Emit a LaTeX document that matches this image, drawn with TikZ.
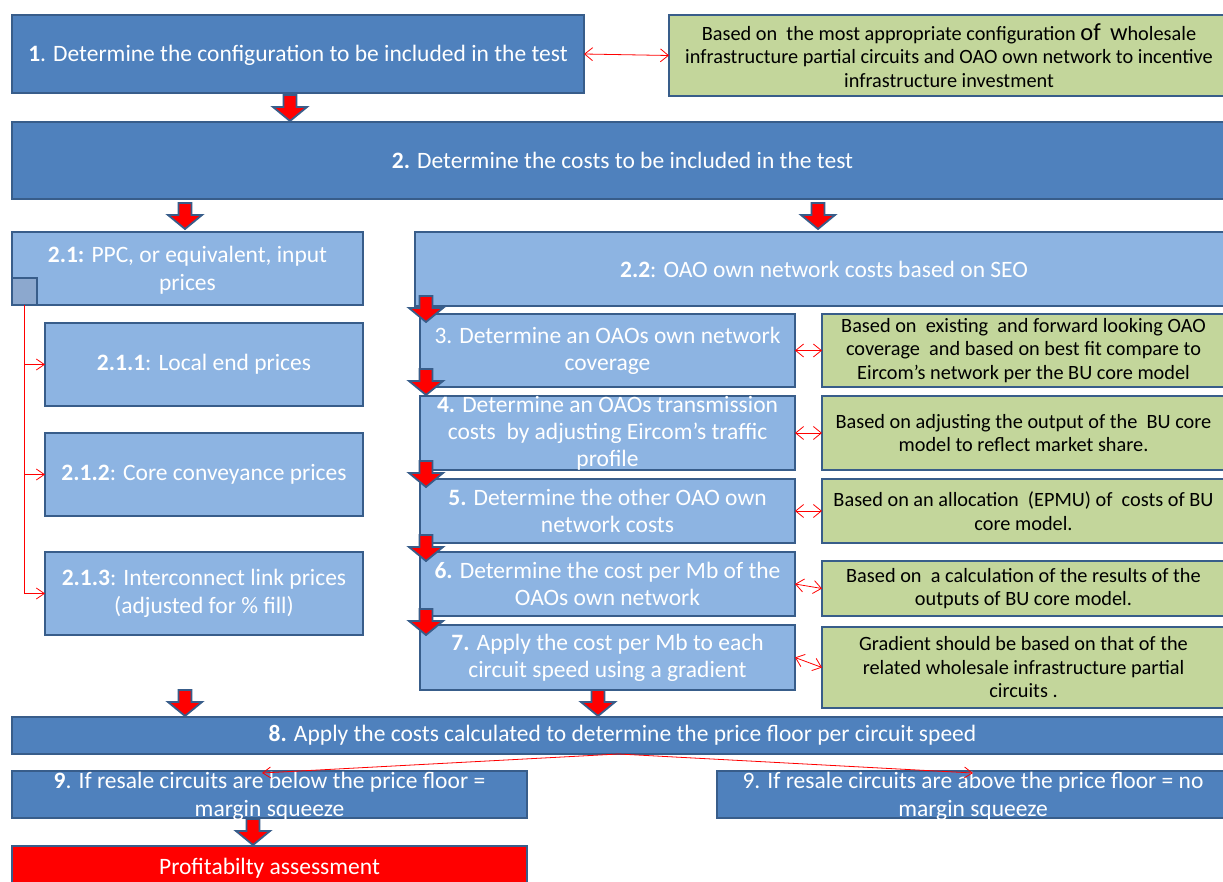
\documentclass[tikz,border=0pt]{standalone}
\usepackage{fontspec}
\setmainfont{Carlito}
\usetikzlibrary{arrows.meta,calc}
\definecolor{dkblue}{RGB}{79,129,189}
\definecolor{ltblue}{RGB}{141,180,226}
\definecolor{edgeblue}{RGB}{56,93,138}
\definecolor{olivegreen}{RGB}{195,214,155}
\definecolor{sqblue}{RGB}{140,168,206}
\definecolor{pureRed}{RGB}{255,0,0}
\newcommand\mkbx[6]{\node[#1, minimum width={#5-#3}, minimum height={#6-#4}] (#2) at ({(#3+#5)/2},{(#4+#6)/2}) {};}
\tikzset{
  boxbase/.style={draw=edgeblue, line width=2.2pt, inner sep=0pt, outer sep=0pt, rectangle},
  dk/.style={boxbase, fill=dkblue},
  lt/.style={boxbase, fill=ltblue},
  gr/.style={boxbase, fill=olivegreen},
  rd/.style={boxbase, fill=pureRed},
  sqr/.style={boxbase, line width=1.6pt, fill=sqblue},
  wt/.style={text=white, align=center, inner sep=0pt, font=\fontsize{23.5}{27.5}\selectfont},
  wtb/.style={text=white, align=center, inner sep=0pt, font=\fontsize{23.5}{27}\selectfont},
  bk/.style={text=black, align=center, inner sep=0pt, font=\fontsize{20.3}{23.5}\selectfont},
  dbl/.style={draw=red, line width=0.8pt, {Straight Barb[length=8pt,width=13pt]}-{Straight Barb[length=8pt,width=13pt]}},
  sgl/.style={draw=red, line width=0.8pt, -{Straight Barb[length=8pt,width=11pt]}},
  barrow/.pic={\draw[draw=edgeblue, line width=1.8pt, fill=pureRed, line join=miter]
     (-6.5,0) -- (-6.5,12) -- (-17,12) -- (0,26) -- (17,12) -- (6.5,12) -- (6.5,0) -- cycle;}
}
\begin{document}
\begin{tikzpicture}[x=1pt,y=-1pt]
\useasboundingbox (0,0) rectangle (1223,882);
\fill[white] (0,0) rectangle (1223,882);

% boxes
\mkbx{dk}{b1}{12}{15}{584}{93}
\mkbx{gr}{g1}{669}{15}{1225}{96}
\mkbx{dk}{b2}{12}{122}{1225}{199}
\mkbx{lt}{b21}{12}{232}{363}{305}
\mkbx{sqr}{sq}{12}{278}{37}{305}
\mkbx{lt}{b211}{45}{323}{363}{406}
\mkbx{lt}{b212}{45}{433}{363}{516}
\mkbx{lt}{b213}{45}{552}{363}{635}
\mkbx{lt}{b22}{415}{232}{1225}{306}
\mkbx{lt}{b3}{420}{314}{795}{387}
\mkbx{lt}{b4}{420}{396}{795}{470}
\mkbx{lt}{b5}{420}{479}{795}{543}
\mkbx{lt}{b6}{420}{552}{795}{616}
\mkbx{lt}{b7}{420}{625}{795}{690}
\mkbx{gr}{g3}{822}{314}{1225}{387}
\mkbx{gr}{g4}{822}{396}{1225}{470}
\mkbx{gr}{g5}{822}{479}{1225}{543}
\mkbx{gr}{g6}{822}{561}{1225}{616}
\mkbx{gr}{g7}{822}{627}{1225}{708}
\mkbx{dk}{b8}{12}{717}{1225}{754}
\mkbx{dk}{b9a}{12}{771}{527}{818}
\mkbx{dk}{b9b}{717}{771}{1225}{818}
\mkbx{rd}{rb}{12}{846}{527}{892}

% texts
\node[wt] (t1) at ($(b1)+(0,1)$) {\textbf{1}. Determine the configuration to be included in the test};
\node[bk] (tg1) at ($(g1)+(2,0)$) {Based on~ the most appropriate configuration {\fontsize{24.5}{24}\selectfont of}~ {\fontsize{24.5}{24}\selectfont w}holesale\\infrastructure partial circuits and OAO own network to incentive\\infrastructure investment};
\node[wt] (t2) at ($(b2)+(4,0)$) {\textbf{2.} Determine the costs to be included in the test};
\node[wt] (t21) at ($(b21)+(0,1.5)$) {\textbf{2.1:} PPC, or equivalent, input\\prices};
\node[wt] (t211) at (b211) {\textbf{2.1.1}: Local end prices};
\node[wt] (t212) at (b212) {\textbf{2.1.2}: Core conveyance prices};
\node[wt] (t213) at (b213) {\textbf{2.1.3}: Interconnect link prices\\(adjusted for \% fill)};
\node[wt] (t22) at ($(b22)+(4,0)$) {\textbf{2.2}: OAO own network costs based on SEO};
\node[wtb] (t3) at (b3) {3. Determine an OAOs own network\\coverage};
\node[wtb] (t4) at (b4) {\textbf{4.} Determine an OAOs transmission\\costs~ by adjusting Eircom’s traffic\\profile};
\node[wtb] (t5) at (b5) {\textbf{5.} Determine the other OAO own\\network costs};
\node[wtb] (t6) at (b6) {\textbf{6.} Determine the cost per Mb of the\\OAOs own network};
\node[wtb] (t7) at (b7) {\textbf{7.} Apply the cost per Mb to each\\circuit speed using a gradient};
\node[bk] (tg3) at (g3) {Based on~ existing~ and forward looking OAO\\coverage~ and based on best fit compare to\\Eircom’s network per the BU core model};
\node[bk] (tg4) at (g4) {Based on adjusting the output of the~ BU core\\model to reflect market share.};
\node[bk] (tg5) at (g5) {Based on an allocation~ (EPMU) of~ costs of BU\\core model.};
\node[bk] (tg6) at (g6) {Based on~ a calculation of the results of the\\outputs of BU core model.};
\node[bk] (tg7) at (g7) {Gradient should be based on that of the\\related wholesale infrastructure partial\\circuits .};
\node[wt] (t8) at ($(b8)+(4,0)$) {\textbf{8.} Apply the costs calculated to determine the price floor per circuit speed};
\node[wt] (t9a) at ($(b9a)+(0,2)$) {\textbf{9}. If resale circuits are below the price floor =\\margin squeeze};
\node[wt] (t9b) at ($(b9b)+(2,2)$) {9. If resale circuits are above the price floor = no\\margin squeeze};
\node[wt] (trb) at ($(rb)+(0,-1)$) {Profitabilty assessment};

% block arrows
\pic at (290,95) {barrow};
\pic at (185,203) {barrow};
\pic at (818,203) {barrow};
\pic at (426,296) {barrow};
\pic at (426,369) {barrow};
\pic at (426,461) {barrow};
\pic at (426,535) {barrow};
\pic at (426,609) {barrow};
\pic at (185,690) {barrow};
\pic at (598,690) {barrow};
\pic at (253,819) {barrow};

% thin red connectors
\draw[dbl] (b1.east) -- (g1.west);
\draw[dbl] (b3.east) -- (g3.west);
\draw[dbl] (b4.east) -- (g4.west);
\draw[dbl] (b5.east) -- (g5.west);
\draw[dbl] (b6.east) -- (g6.west);
\draw[dbl] (b7.east) -- (g7.west);
\draw[sgl] (sq.south) |- (b211.west);
\draw[sgl] (sq.south) |- (b212.west);
\draw[sgl] (sq.south) |- (b213.west);
\coordinate (e9a) at (262,773);
\coordinate (e9b) at (973,773);
\draw[sgl] (b8.south) -- (e9a);
\draw[sgl] (b8.south) -- (e9b);
\end{tikzpicture}
\end{document}
